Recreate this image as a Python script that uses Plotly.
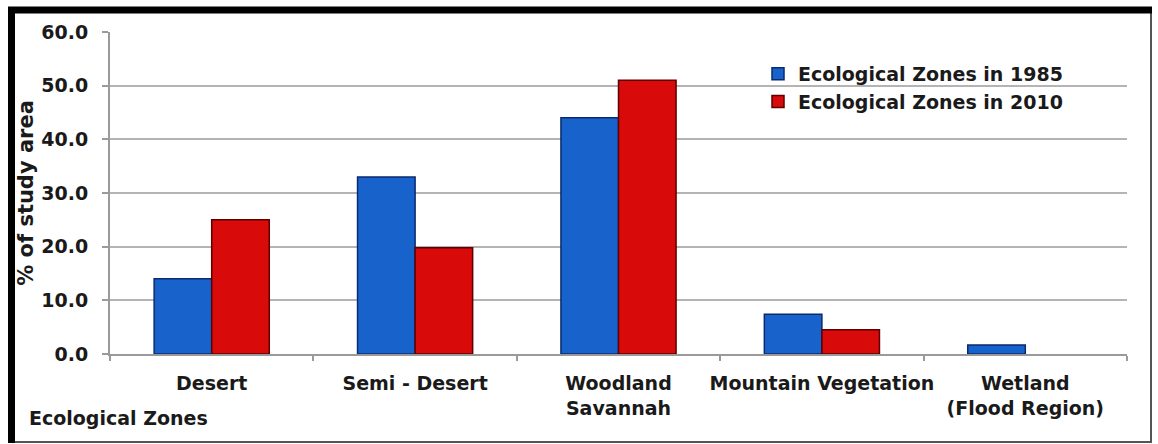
import plotly.graph_objects as go

# ---- data ----
categories = ["Desert", "Semi - Desert", "Woodland<br>Savannah", "Mountain Vegetation", "Wetland<br>(Flood Region)"]
zones_1985 = [14.0, 33.0, 44.0, 7.4, 1.7]
zones_2010 = [25.0, 19.8, 51.0, 4.5, 0.0]
series_names = ["Ecological Zones in 1985", "Ecological Zones in 2010"]
y_tick_values = [0, 10, 20, 30, 40, 50, 60]
y_tick_labels = ["0.0", "10.0", "20.0", "30.0", "40.0", "50.0", "60.0"]

W, H = 1158, 444
L, R, T, B = 110, 31, 32, 90
PW, PH = W - L - R, H - T - B

FONT = "DejaVu Sans"
FS = 19
TXT = "#1a1a1a"


def px_x(px):
    return (px - L) / PW


def px_y(py):
    return (H - B - py) / PH


def outline_widths(values, w=1.5):
    return [w if v > 0 else 0 for v in values]


fig = go.Figure()
fig.add_trace(go.Bar(
    x=categories, y=zones_1985, name=series_names[0],
    marker=dict(color="#1862cc", line=dict(color="#0b2a6e", width=outline_widths(zones_1985))),
))
fig.add_trace(go.Bar(
    x=categories, y=zones_2010, name=series_names[1],
    marker=dict(color="#d80a0a", line=dict(color="#5e0000", width=outline_widths(zones_2010))),
))

shapes = [
    dict(type="line", xref="paper", yref="paper", x0=px_x(1151), x1=px_x(1151), y0=px_y(10), y1=px_y(442),
         line=dict(color="#555555", width=2)),
    dict(type="line", xref="paper", yref="paper", x0=px_x(11), x1=px_x(1152), y0=px_y(442), y1=px_y(442),
         line=dict(color="#555555", width=2)),
    dict(type="line", xref="paper", yref="paper", x0=px_x(8), x1=px_x(1152), y0=px_y(10), y1=px_y(10),
         line=dict(color="#000000", width=7)),
    dict(type="line", xref="paper", yref="paper", x0=px_x(11.5), x1=px_x(11.5), y0=px_y(7), y1=px_y(443),
         line=dict(color="#000000", width=7)),
]

fig.update_layout(
    width=W, height=H,
    margin=dict(l=L, r=R, t=T, b=B, autoexpand=False),
    paper_bgcolor="white", plot_bgcolor="white",
    font=dict(family=FONT, size=FS, color=TXT),
    barmode="group", bargap=0.434, bargroupgap=0.0,
    showlegend=True,
    legend=dict(
        x=px_x(758), y=px_y(55), xanchor="left", yanchor="top",
        bgcolor="rgba(0,0,0,0)", itemwidth=30,
        font=dict(family=FONT, size=FS, color=TXT, weight="bold"),
    ),
    shapes=shapes,
    annotations=[
        dict(text="<b>Ecological Zones</b>", xref="paper", yref="paper",
             x=px_x(27), y=px_y(418), xanchor="left", yanchor="middle",
             showarrow=False, font=dict(family=FONT, size=FS, color=TXT)),
    ],
)

fig.update_xaxes(
    type="category",
    showline=True, linecolor="#9a9a9a", linewidth=2,
    ticks="outside", tickson="boundaries", ticklen=5, tickcolor="#9a9a9a", tickwidth=1.5,
    showgrid=False,
    tickangle=0,
    tickfont=dict(family=FONT, size=FS, color=TXT, weight="bold"),
    ticklabelstandoff=11,
)
fig.update_yaxes(
    range=[0, 60],
    tickvals=y_tick_values, ticktext=y_tick_labels,
    showline=True, linecolor="#9a9a9a", linewidth=2,
    ticks="outside", ticklen=6, tickcolor="#9a9a9a", tickwidth=1.5,
    showgrid=True, gridcolor="#b4b4b4", gridwidth=2,
    zeroline=False,
    tickfont=dict(family=FONT, size=FS, color=TXT, weight="bold"),
    ticklabelstandoff=10,
    title=dict(text="<b>% of study area</b>", font=dict(family=FONT, size=21, color=TXT), standoff=2),
)

fig.write_html("out.html")
